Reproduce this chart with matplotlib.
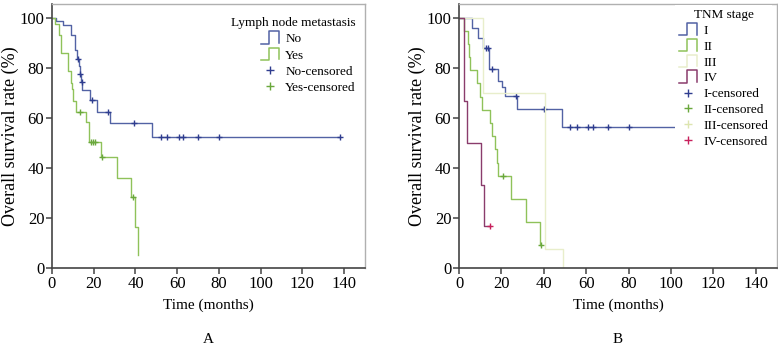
import numpy as np
import matplotlib
matplotlib.use("Agg")
import matplotlib.pyplot as plt
from matplotlib.lines import Line2D
from matplotlib.legend_handler import HandlerBase

plt.rcParams['font.family'] = ['Liberation Serif', 'DejaVu Serif']

# ---- panel A: lymph node metastasis ----
no_t = [0, 2.0, 5.4, 9.1, 11.0, 12.2, 13.0, 13.3, 13.7, 14.6, 18.2, 21.4, 27.7, 48.0, 138]
no_s = [100, 98.6, 97.2, 93.1, 86.9, 83.5, 80.6, 77.4, 74.2, 70.9, 66.9, 62.3, 57.9, 52.3, 52.3]
no_cens = [12.6, 13.4, 14.2, 19.0, 26.9, 39.5, 52.2, 55.3, 60.9, 62.8, 70.0, 80.0, 138]

yes_t = [0, 1.5, 3.5, 4.3, 7.8, 8.9, 9.4, 9.9, 11.3, 16.5, 17.9, 23.5, 31.0, 37.8, 40.0, 41.0]
yes_s = [100, 97.6, 92.9, 85.7, 78.6, 73.8, 71.4, 66.7, 62.4, 58.4, 50.4, 44.4, 36.1, 28.5, 16.5, 5.2]
yes_cens = [13.6, 18.7, 19.6, 20.4, 23.8, 38.6]

# ---- panel B: TNM stage ----
s1_t = [0, 6.0, 9.1, 11.5, 14.0, 18.5, 20.1, 21.7, 27.3, 48.4, 138]
s1_s = [100, 96.0, 92.0, 88.0, 79.3, 74.7, 72.4, 68.7, 63.4, 56.3, 56.3]
s1_cens = [12.7, 13.8, 15.4, 26.9, 40.2, 52.4, 55.5, 61.0, 63.4, 70.4, 80.3, 138]

s2_t = [0, 2.4, 4.4, 4.8, 5.4, 8.3, 9.9, 10.7, 14.6, 15.4, 17.0, 17.8, 18.5, 24.5, 31.6, 38.4]
s2_s = [100, 94.7, 89.5, 84.2, 78.9, 73.7, 68.4, 63.2, 57.9, 52.6, 47.4, 42.1, 36.8, 27.6, 18.4, 9.2]
s2_cens = [20.9, 38.6]

s3_t = [0, 11.5, 40.6, 48.9]
s3_s = [100, 70.0, 7.5, 0]
s3_cens = []

s4_t = [0, 2.5, 3.6, 10.5, 11.8, 14.6]
s4_s = [100, 66.7, 50.0, 33.3, 16.7, 16.7]
s4_cens = [14.6]

blue, blue_m = '#5262a4', '#2f3d8f'
green, green_m = '#8fc25a', '#6aa83c'
pale, pale_m = '#e8eecb', '#dde5b0'
plum, plum_m = '#8a3c6c', '#c8205c'


class StepHandler(HandlerBase):
    def create_artists(self, legend, orig_handle, xdescent, ydescent,
                       width, height, fontsize, trans):
        x0, y0 = -xdescent, -ydescent - 0.15 * height
        h = height * 1.35
        xs = [x0, x0 + 0.45 * width, x0 + 0.45 * width, x0 + width, x0 + width]
        ys = [y0, y0, y0 + h, y0 + h, y0 + 0.05 * h]
        return [Line2D(xs, ys, color=orig_handle.get_color(), lw=1.1, transform=trans)]


def km(ax, t, s, cens, color, mcolor):
    line, = ax.step(t, s, where='post', color=color, lw=1.0)
    idx = np.searchsorted(t, cens, side='right') - 1
    cy = np.array(s)[idx] if len(cens) else []
    ax.plot(cens, cy, ls='none', marker='+', ms=4, mew=1.0, color=mcolor)
    return line


def style(ax, letter):
    ax.set_xlim(0, 150)
    ax.set_ylim(0, 105.4)
    ax.set_xticks(range(0, 141, 20))
    ax.set_yticks(range(0, 101, 20))
    for side in ['left', 'bottom']:
        ax.spines[side].set_color('#444444')
        ax.spines[side].set_linewidth(1.2)
    for side in ['top', 'right']:
        ax.spines[side].set_color('#b0b0b0')
        ax.spines[side].set_linewidth(1.0)
    ax.tick_params(direction='out', length=4, width=1.1, color='#444444',
                   labelsize=12, pad=1.5)
    ax.set_xlabel('Time (months)', fontsize=11, labelpad=5)
    ax.set_ylabel('Overall survival rate (%)', fontsize=13, labelpad=0)
    ax.text(0.5, -0.27, letter, transform=ax.transAxes, ha='center',
            va='center', fontsize=11)


fig = plt.figure(figsize=(7.78, 3.5), dpi=100)
axA = fig.add_axes([52 / 778, 82 / 350, 313 / 778, 264 / 350])
axB = fig.add_axes([459 / 778, 82 / 350, 318 / 778, 264 / 350])

# panel A
hA = [km(axA, no_t, no_s, no_cens, blue, blue_m),
      km(axA, yes_t, yes_s, yes_cens, green, green_m)]
style(axA, 'A')
mA = [Line2D([], [], ls='none', marker='+', ms=6, mew=1.0, color=c) for c in [blue_m, green_m]]
legA = axA.legend(hA + mA, ['No', 'Yes', 'No-censored', 'Yes-censored'],
                  title='Lymph node metastasis', loc='upper right',
                  bbox_to_anchor=(0.975, 0.955), borderaxespad=0, borderpad=0.1,
                  frameon=False, fontsize=9.5, title_fontsize=9.5,
                  handlelength=1.35, handletextpad=0.5, labelspacing=0.3,
                  alignment='right',
                  handler_map={hA[0]: StepHandler(), hA[1]: StepHandler()})

# panel B
hB = [km(axB, s1_t, s1_s, s1_cens, blue, blue_m),
      km(axB, s2_t, s2_s, s2_cens, green, green_m),
      km(axB, s3_t, s3_s, s3_cens, pale, pale_m),
      km(axB, s4_t, s4_s, s4_cens, plum, plum_m)]
style(axB, 'B')
mB = [Line2D([], [], ls='none', marker='+', ms=6, mew=1.0, color=c)
      for c in [blue_m, green_m, pale_m, plum_m]]
legB = axB.legend(hB + mB, ['I', 'II', 'III', 'IV', 'I-censored', 'II-censored',
                            'III-censored', 'IV-censored'],
                  title='TNM stage', loc='upper right',
                  bbox_to_anchor=(0.985, 0.995), borderaxespad=0, borderpad=0.3,
                  frameon=True, facecolor='white', edgecolor='none', framealpha=1,
                  fancybox=False, fontsize=9.5, title_fontsize=9.5,
                  handlelength=1.35, handletextpad=0.5, labelspacing=0.27,
                  handler_map={h: StepHandler() for h in hB})

fig.savefig('out.png', dpi=100)
